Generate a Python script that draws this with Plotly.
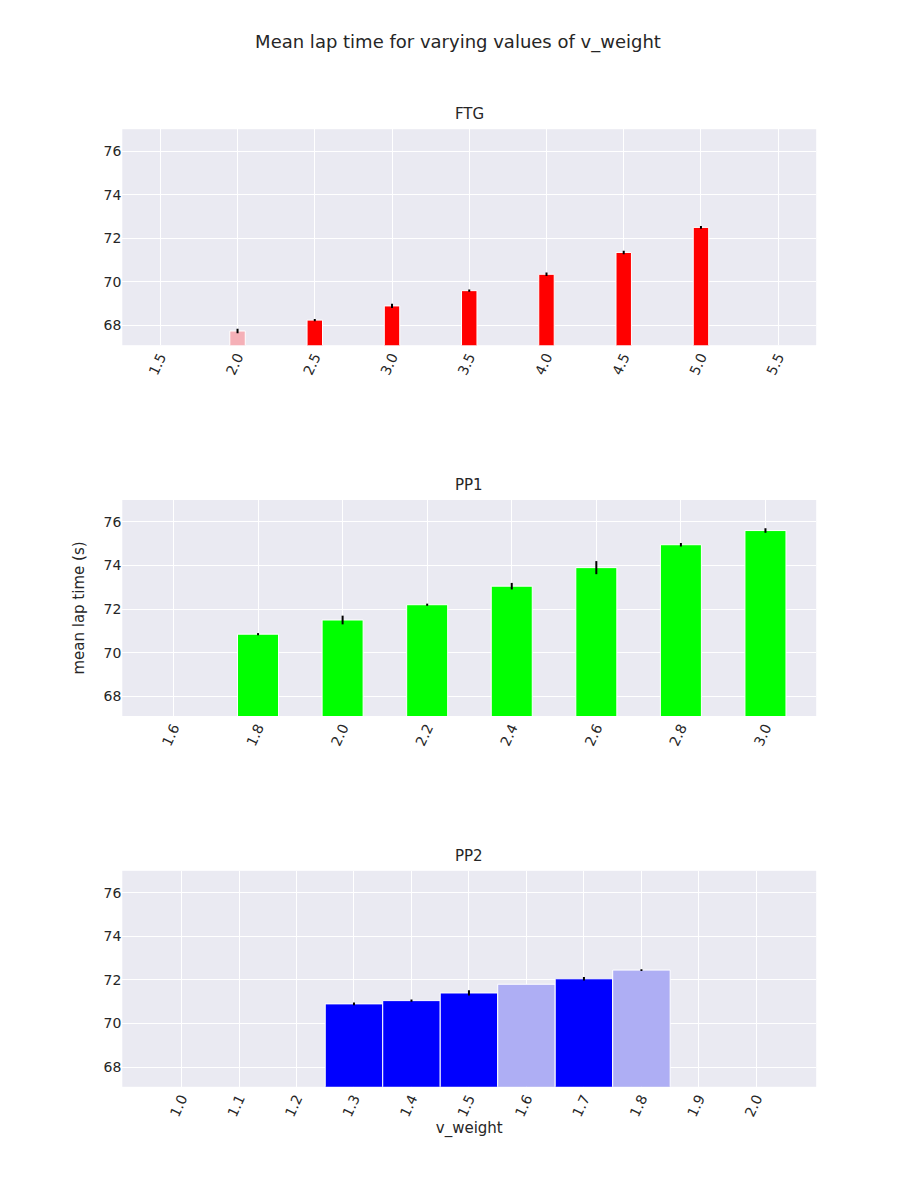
import plotly.graph_objects as go

# FTG
ftg_x = [2.0, 2.5, 3.0, 3.5, 4.0, 4.5, 5.0]
ftg_y = [67.75, 68.25, 68.9, 69.6, 70.35, 71.35, 72.5]
ftg_err = [0.1, 0.05, 0.1, 0.05, 0.08, 0.08, 0.06]
ftg_col = ["#f5b0b7", "red", "red", "red", "red", "red", "red"]

# PP1
pp1_x = [1.8, 2.0, 2.2, 2.4, 2.6, 2.8, 3.0]
pp1_y = [70.85, 71.5, 72.2, 73.05, 73.9, 74.95, 75.6]
pp1_err = [0.05, 0.2, 0.05, 0.15, 0.3, 0.08, 0.1]

# PP2
pp2_x = [1.3, 1.4, 1.5, 1.6, 1.7, 1.8]
pp2_y = [70.9, 71.05, 71.4, 71.8, 72.05, 72.45]
pp2_err = [0.06, 0.05, 0.12, 0.0, 0.08, 0.04]
pp2_col = ["blue", "blue", "blue", "#aeaef4", "blue", "#aeaef4"]

panels = [
    ("FTG", ftg_x, ftg_y, ftg_err, ftg_col, [1.254, 5.746], [1.5, 2.0, 2.5, 3.0, 3.5, 4.0, 4.5, 5.0, 5.5], "%.1f", 0.1),
    ("PP1", pp1_x, pp1_y, pp1_err, ["#00ff00"] * 7, [1.479, 3.12], [1.6, 1.8, 2.0, 2.2, 2.4, 2.6, 2.8, 3.0], "%.1f", 0.097),
    ("PP2", pp2_x, pp2_y, pp2_err, pp2_col, [0.897, 2.104], [1.0, 1.1, 1.2, 1.3, 1.4, 1.5, 1.6, 1.7, 1.8, 1.9, 2.0], "%.1f", 0.1),
]
domains = [(0.719, 0.899), (0.41, 0.59), (0.101, 0.281)]

fig = go.Figure()
layout = dict(
    width=900, height=1200, paper_bgcolor="white", plot_bgcolor="#eaeaf2",
    margin=dict(l=0, r=0, t=0, b=0), showlegend=False,
    font=dict(family="DejaVu Sans", size=14, color="#262626"),
    title=dict(text="Mean lap time for varying values of v_weight", x=0.5, y=0.972,
               xanchor="center", yanchor="middle", font=dict(size=18)),
    annotations=[],
)
for i, (name, xs, ys, es, cols, xr, tv, fmt, w) in enumerate(panels):
    n = "" if i == 0 else str(i + 1)
    fig.add_trace(go.Bar(
        x=xs, y=ys, width=w, marker=dict(color=cols, line=dict(color="white", width=1)),
        error_y=dict(type="data", array=es, color="black", thickness=2, width=0),
        xaxis="x" + n, yaxis="y" + n))
    layout["xaxis" + n] = dict(domain=[0.127, 0.898], range=xr, tickvals=tv,
                                ticktext=[fmt % v for v in tv], tickangle=-65,
                                gridcolor="white", zeroline=False, anchor="y" + n,
                                tickfont=dict(size=14))
    layout["yaxis" + n] = dict(domain=list(domains[i]), range=[67.1, 77], tickvals=[68, 70, 72, 74, 76],
                                gridcolor="white", zeroline=False, anchor="x" + n,
                                tickfont=dict(size=14))
    layout["annotations"].append(dict(text=name, x=0.5125, y=domains[i][1], xref="paper", yref="paper",
                                      xanchor="center", yanchor="bottom", yshift=4, showarrow=False,
                                      font=dict(size=15)))
layout["yaxis2"]["title"] = dict(text="mean lap time (s)", font=dict(size=15))
layout["xaxis3"]["title"] = dict(text="v_weight", font=dict(size=15), standoff=2)
fig.update_layout(**layout)
fig.write_html("out.html")
